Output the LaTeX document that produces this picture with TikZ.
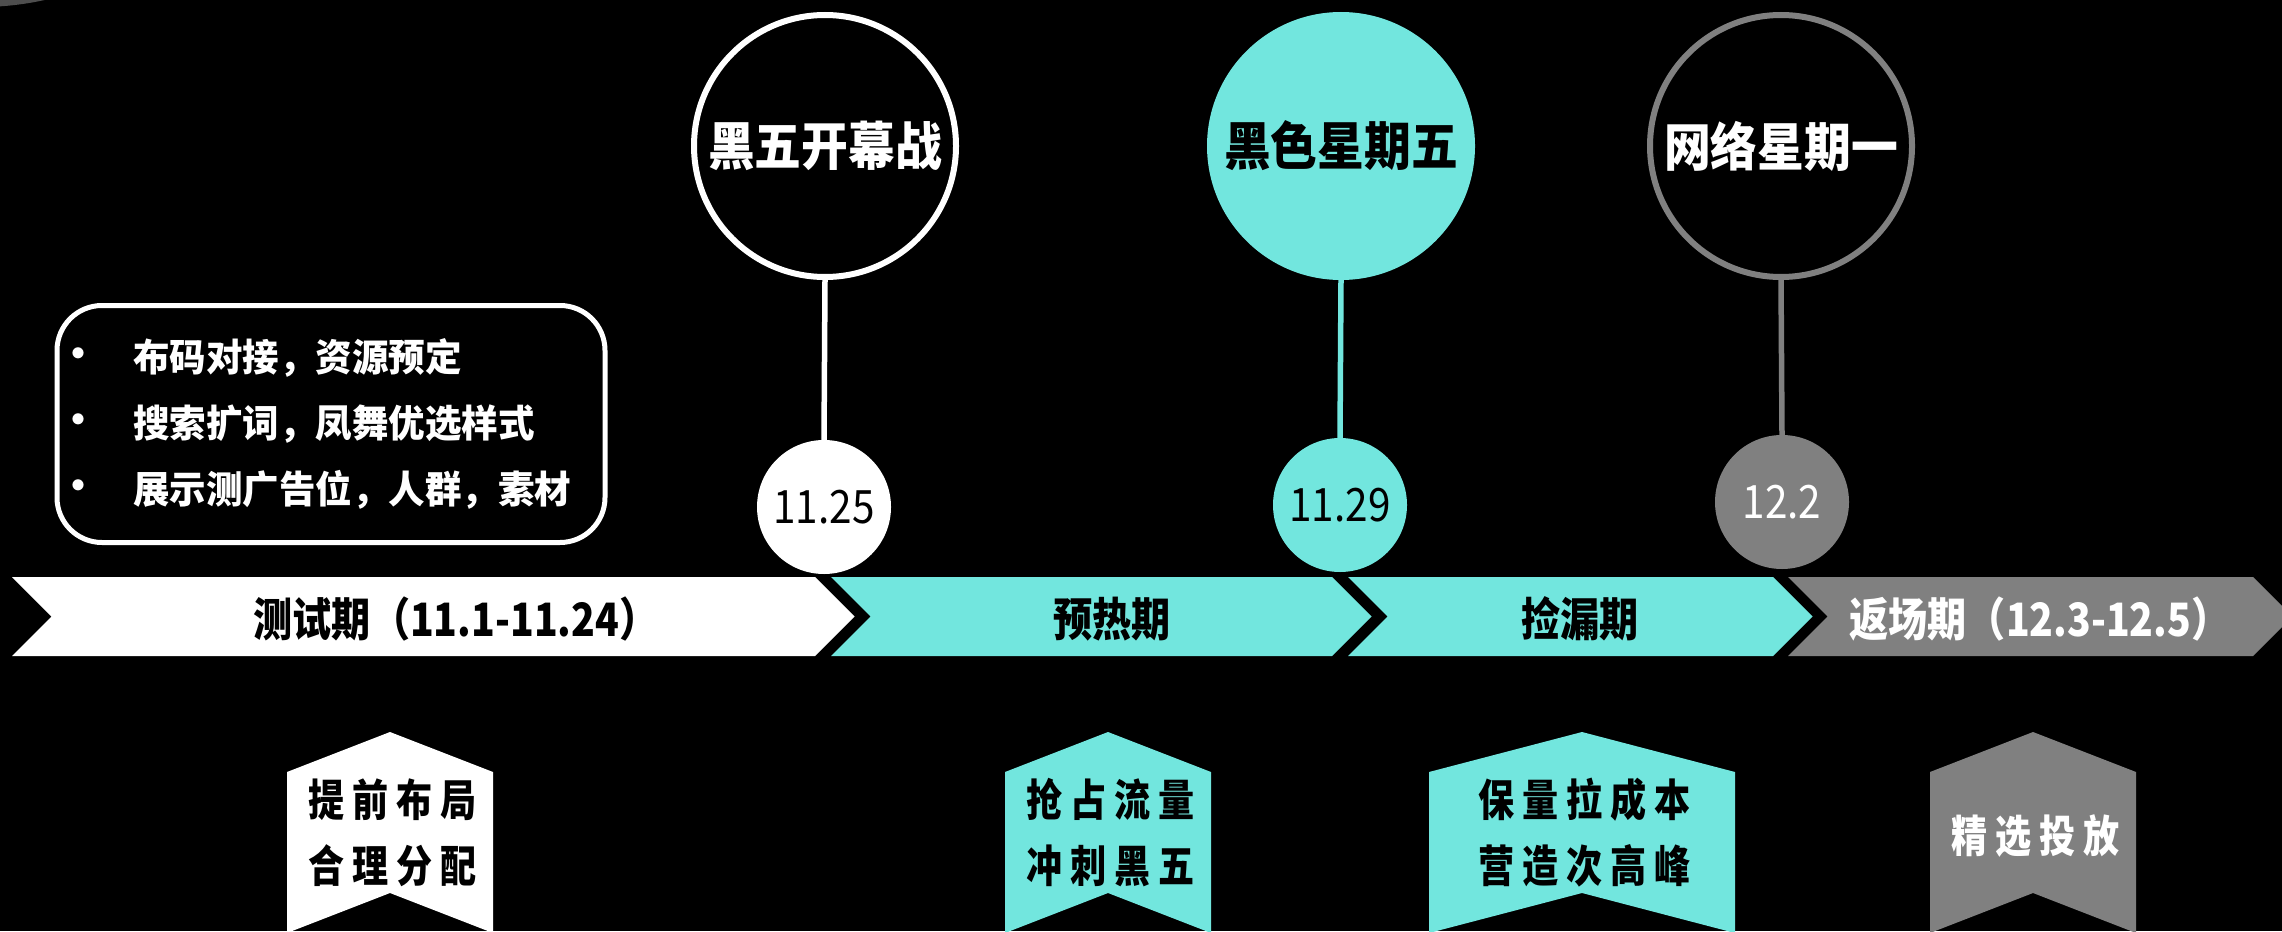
\documentclass[tikz,border=0pt]{standalone}
\usepackage{fontspec}
\setmainfont{Noto Sans CJK SC}
\definecolor{cy}{RGB}{114,230,222}
\definecolor{gr}{RGB}{128,128,128}
\definecolor{dkgr}{RGB}{78,78,78}
\begin{document}
\begin{tikzpicture}[x=1pt,y=-1pt,
  bigcircle/.style={circle, minimum size=262pt, inner sep=0pt, line width=6pt,
    font=\fontsize{52}{60}\selectfont\bfseries\addfontfeature{FakeStretch=0.9}},
  datecircle/.style={circle, minimum size=134pt, inner sep=0pt,
    font=\fontsize{46}{50}\selectfont\addfontfeature{FakeStretch=0.88}},
  stem/.style={line width=5.5pt},
  bandtext/.style={inner sep=0pt, font=\fontsize{46}{52}\selectfont\bfseries\addfontfeature{FakeStretch=0.85}},
  boxtext/.style={inner sep=0pt, anchor=west, text=white,
    font=\fontsize{38}{44}\selectfont\bfseries\addfontfeature{FakeStretch=0.96}},
  bullettext/.style={inner sep=0pt, text=white, font=\fontsize{40}{44}\selectfont\bfseries},
  bannertext/.style={inner sep=0pt, align=center,
    font=\fontsize{44}{66}\selectfont\bfseries\addfontfeature{FakeStretch=0.82,LetterSpace=18}}
]
\useasboundingbox (0,0) rectangle (2282,931);
\fill[black] (0,0) rectangle (2282,931);
% partial circle at top-left corner
\fill[dkgr] (-20,-293) circle [radius=300pt];

% ---- arrow band ----
\def\T{577}\def\B{656}\def\M{616.5}
\fill[white] (12,\T) -- (815,\T) -- (854.5,\M) -- (815,\B) -- (12,\B) -- (51.5,\M) -- cycle;
\fill[cy] (831,\T) -- (1332,\T) -- (1371.5,\M) -- (1332,\B) -- (831,\B) -- (870.5,\M) -- cycle;
\fill[cy] (1348,\T) -- (1773,\T) -- (1812.5,\M) -- (1773,\B) -- (1348,\B) -- (1387.5,\M) -- cycle;
\fill[gr] (1788,\T) -- (2253,\T) -- (2292.5,\M) -- (2253,\B) -- (1788,\B) -- (1827.5,\M) -- cycle;

\node[bandtext, text=black] (p1) at (456,619) {测试期（11.1-11.24）};
\node[bandtext, text=black] (p2) at (1112,619) {预热期};
\node[bandtext, text=black] (p3) at (1580,619) {捡漏期};
\node[bandtext, text=white] (p4) at (2040,619) {返场期（12.3-12.5）};

% ---- milestone circles ----
\node[bigcircle, draw=white, text=white] (c1) at (825,146) {\raisebox{-5pt}{黑五开幕战}};
\node[bigcircle, draw=cy, fill=cy, text=black] (c2) at (1341,146) {\raisebox{-5pt}{黑色星期五}};
\node[bigcircle, draw=gr, text=white] (c3) at (1781,146) {\raisebox{-5pt}{网络星期一}};

\node[datecircle, fill=white, text=black] (d1) at (824,507) {11.25};
\node[datecircle, fill=cy, text=black] (d2) at (1340,505) {11.29};
\node[datecircle, fill=gr, text=white] (d3) at (1782,502) {12.2};

\draw[stem, white] (c1.south) -- (d1.north);
\draw[stem, cy] (c2.south) -- (d2.north);
\draw[stem, gr] (c3.south) -- (d3.north);

% ---- text box ----
\node[draw=white, line width=5pt, rounded corners=45pt,
  minimum width=548pt, minimum height=237pt, inner sep=0pt] (box) at (331,424) {};
\node[bullettext] (b1) at (78,358) {•};
\node[bullettext] (b2) at (78,424) {•};
\node[bullettext] (b3) at (78,490) {•};
\node[boxtext] (l1) at (133,358) {布码对接，资源预定};
\node[boxtext] (l2) at (133,424) {搜索扩词，凤舞优选样式};
\node[boxtext] (l3) at (133,490) {展示测广告位，人群，素材};

% ---- bottom banners ----
\fill[white] (287,772) -- (390,732) -- (493,772) -- (493,933) -- (390,893) -- (287,933) -- cycle;
\fill[cy] (1005,772) -- (1108,732) -- (1211,772) -- (1211,933) -- (1108,893) -- (1005,933) -- cycle;
\fill[cy] (1429,772) -- (1582,732) -- (1735,772) -- (1735,933) -- (1582,893) -- (1429,933) -- cycle;
\fill[gr] (1930,772) -- (2033,732) -- (2136,772) -- (2136,933) -- (2033,893) -- (1930,933) -- cycle;

\node[bannertext, text=black] (s1) at (393,833) {提前布局\\合理分配};
\node[bannertext, text=black] (s2) at (1111,833) {抢占流量\\冲刺黑五};
\node[bannertext, text=black] (s3) at (1585,833) {保量拉成本\\营造次高峰};
\node[bannertext, text=white] (s4) at (2036,836) {精选投放};
\end{tikzpicture}
\end{document}
